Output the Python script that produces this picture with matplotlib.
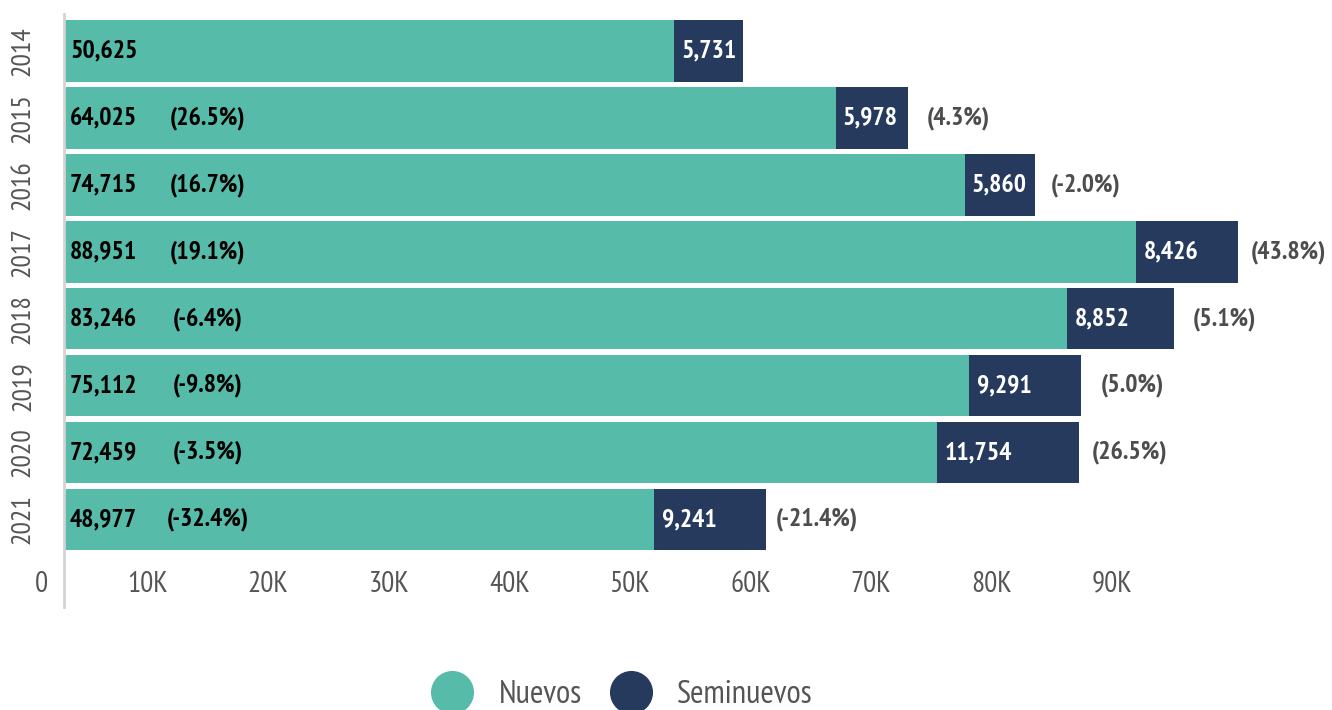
import numpy as np
import matplotlib.pyplot as plt
from matplotlib.lines import Line2D
from matplotlib import transforms, font_manager

# data
years = ['2014', '2015', '2016', '2017', '2018', '2019', '2020', '2021']
nuevos = [50625, 64025, 74715, 88951, 83246, 75112, 72459, 48977]
seminuevos = [5731, 5978, 5860, 8426, 8852, 9291, 11754, 9241]
xticks = [0, 10000, 20000, 30000, 40000, 50000, 60000, 70000, 80000, 90000]
xtick_labels = ['0', '10K', '20K', '30K', '40K', '50K', '60K', '70K', '80K', '90K']

teal = '#57BBA9'
navy = '#263A5E'
grey = '#555555'

# narrow font: use one if present, else the condensed DejaVu face
names = {f.name for f in font_manager.fontManager.ttflist}
family = 'DejaVu Sans'
for cand in ['PT Sans Narrow', 'Liberation Sans Narrow', 'Roboto Condensed']:
    if cand in names:
        family = cand
        break
plt.rcParams['font.family'] = [family, 'DejaVu Sans']
plt.rcParams['font.stretch'] = 'condensed'
narrow = family != 'DejaVu Sans'


def pct_labels(vals):
    out = ['']
    for a, b in zip(vals[:-1], vals[1:]):
        out.append('(%.1f%%)' % ((b / a - 1) * 100))
    return out


fig = plt.figure(figsize=(13.32, 7.1), dpi=100)
ax = fig.add_axes([64 / 1332, 1 - 565 / 710, 1 - 64 / 1332, (565 - 14) / 710])

y = np.arange(len(years))
ax.barh(y, nuevos, height=0.92, color=teal)
ax.barh(y, seminuevos, left=nuevos, height=0.92, color=navy)

p_new = pct_labels(nuevos)
p_semi = pct_labels(seminuevos)
fs = 18.5 if narrow else 15.5
for i in range(len(years)):
    ax.text(500, i, f'{nuevos[i]:,}', ha='left', va='center',
            fontsize=fs, fontweight='bold', color='black')
    ax.text(11900, i, p_new[i], ha='center', va='center',
            fontsize=fs, fontweight='bold', color='black')
    ax.text(nuevos[i] + 600, i, f'{seminuevos[i]:,}', ha='left', va='center',
            fontsize=fs, fontweight='bold', color='white')
    ax.text(nuevos[i] + seminuevos[i] + 4200, i, p_semi[i], ha='center',
            va='center', fontsize=fs, fontweight='bold', color='#4d4d4d')

ax.set_xlim(0, 105200)
ax.set_ylim(7.68, -0.553)

ax.set_xticks(xticks, xtick_labels)
ax.tick_params(axis='x', length=0, labelsize=21 if narrow else 18,
               labelcolor=grey, pad=4)
shift = transforms.ScaledTranslation(-16.5 / 100, 0, fig.dpi_scale_trans)
for lbl in ax.get_xticklabels():
    lbl.set_ha('right')
    lbl.set_transform(lbl.get_transform() + shift)

ax.set_yticks(y, years)
ax.tick_params(axis='y', length=0, labelsize=20 if narrow else 17,
               labelcolor=grey, pad=21, labelrotation=90)
for lbl in ax.get_yticklabels():
    lbl.set_va('center')

for s in ['top', 'right', 'bottom']:
    ax.spines[s].set_visible(False)
ax.spines['left'].set_color('#d3d3d3')
ax.spines['left'].set_linewidth(2)
ax.spines['left'].set_bounds(8.31, -0.553)

handles = [
    Line2D([], [], marker='o', linestyle='', markersize=30, color=teal, label='Nuevos'),
    Line2D([], [], marker='o', linestyle='', markersize=30, color=navy, label='Seminuevos'),
]
fig.legend(handles=handles, loc='center', bbox_to_anchor=(616 / 1332, 1 - 695 / 710),
           ncol=2, frameon=False, fontsize=23.5 if narrow else 20,
           labelcolor=grey, handletextpad=0.42, columnspacing=0.5)

fig.savefig('out.png', dpi=100)
